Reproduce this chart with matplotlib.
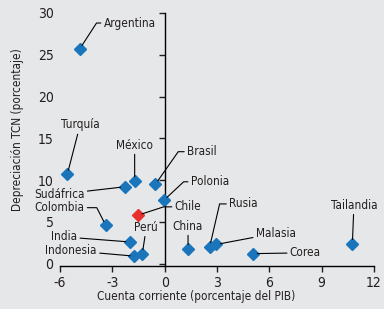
import matplotlib
matplotlib.use("Agg")
import matplotlib.pyplot as plt

plt.rcParams['font.family'] = ['DejaVu Sans']
plt.rcParams['font.stretch'] = 'condensed'
plt.rcParams['axes.unicode_minus'] = False

countries = ['Argentina', 'Turquía', 'México', 'Brasil', 'Sudáfrica', 'Polonia',
             'Chile', 'Colombia', 'India', 'Indonesia', 'Perú', 'China',
             'Rusia', 'Malasia', 'Corea', 'Tailandia']
cuenta = [-4.87, -5.58, -1.72, -0.53, -2.29, -0.04,
          -1.53, -3.38, -2.0, -1.74, -1.28, 1.34,
          2.58, 2.96, 5.07, 10.76]
deprec = [25.7, 10.7, 9.9, 9.5, 9.2, 7.6,
          5.8, 4.6, 2.6, 0.9, 1.2, 1.8,
          2.0, 2.3, 1.2, 2.4]
highlight = 'Chile'

xticks = [-6, -3, 0, 3, 6, 9, 12]
yticks = [0, 5, 10, 15, 20, 25, 30]

# label position, alignment, leader style
labels = {
    'Argentina': ((-3.5, 28.8), 'left', 'angle,angleA=0,angleB=57,rad=0'),
    'Turquía': ((-4.85, 16.6), 'center', 'arc3'),
    'México': ((-1.72, 14.2), 'center', 'arc3'),
    'Brasil': ((1.28, 13.4), 'left', 'angle,angleA=0,angleB=55,rad=0'),
    'Sudáfrica': ((-4.59, 8.3), 'right', 'arc3'),
    'Polonia': ((1.49, 9.8), 'left', 'angle,angleA=0,angleB=43,rad=0'),
    'Chile': ((0.57, 6.8), 'left', 'angle,angleA=0,angleB=18,rad=0'),
    'Colombia': ((-4.59, 6.7), 'right', 'angle,angleA=0,angleB=117,rad=0'),
    'India': ((-5.01, 3.2), 'right', 'arc3'),
    'Indonesia': ((-3.88, 1.56), 'right', 'arc3'),
    'Perú': ((-1.05, 4.36), 'center', 'arc3'),
    'China': ((1.34, 4.5), 'center', 'arc3'),
    'Rusia': ((3.69, 7.15), 'left', 'angle,angleA=0,angleB=77,rad=0'),
    'Malasia': ((5.22, 3.64), 'left', 'arc3'),
    'Corea': ((7.17, 1.3), 'left', 'arc3'),
    'Tailandia': ((10.85, 7.0), 'center', 'arc3'),
}

bg = '#e6e7e8'
blue = '#1b75bb'
red = '#e8312f'

fig = plt.figure(figsize=(3.84, 3.09), dpi=100, facecolor=bg)
ax = fig.add_axes([60 / 384, 1 - 266 / 309, 314 / 384, 253 / 309])
ax.set_facecolor(bg)

for name, x, y in zip(countries, cuenta, deprec):
    color = red if name == highlight else blue
    ax.plot(x, y, marker='D', markersize=6.5, color=color, linestyle='none', zorder=3)
    (tx, ty), ha, conn = labels[name]
    ax.annotate(name, xy=(x, y), xytext=(tx, ty), textcoords='data',
                ha=ha, va='center', fontsize=8.5, color='#231f20',
                arrowprops=dict(arrowstyle='-', color='black', lw=0.8,
                                shrinkA=0, shrinkB=3, connectionstyle=conn))

ax.set_xlim(-6, 12)
ax.set_ylim(-0.28, 30)
ax.set_xticks(xticks)
ax.set_yticks(yticks)
ax.set_xticklabels([str(t) for t in xticks])
ax.set_yticklabels([str(t) for t in yticks])

for side in ['top', 'right']:
    ax.spines[side].set_visible(False)
ax.spines['left'].set_position(('data', 0))
ax.spines['left'].set_linewidth(1.0)
ax.spines['bottom'].set_linewidth(1.0)

ax.tick_params(axis='x', direction='out', length=4, width=1, labelsize=10,
               pad=3, colors='#231f20')
ax.tick_params(axis='y', direction='out', length=4, width=1, labelsize=10,
               pad=76, colors='#231f20')

fig.text(196.5 / 384, 1 - 296.7 / 309, 'Cuenta corriente (porcentaje del PIB)',
         ha='center', va='center', fontsize=8.5, color='#231f20')
fig.text(18 / 384, 1 - 130 / 309, 'Depreciación TCN (porcentaje)',
         ha='center', va='center', rotation=90, fontsize=8.5, color='#231f20')

fig.savefig('out.png', dpi=100, facecolor=bg)
